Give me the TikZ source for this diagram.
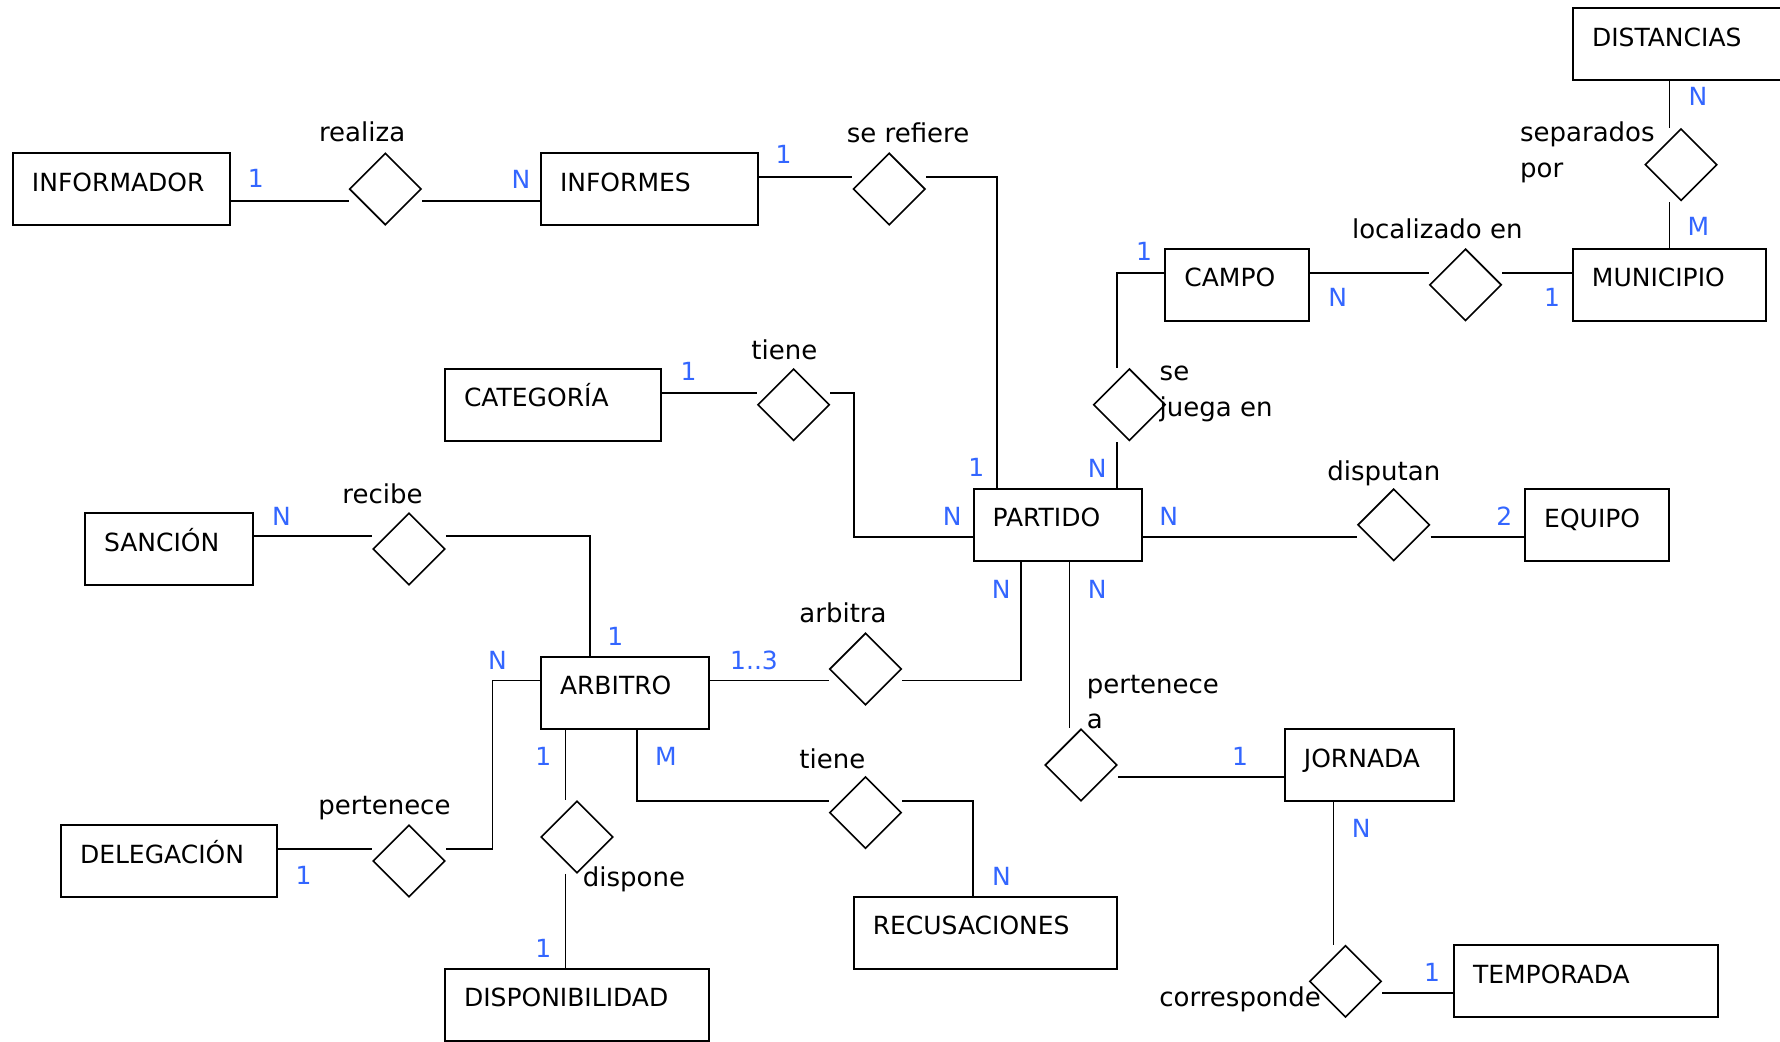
\documentclass[tikz,border=0pt]{standalone}
\usepackage{fontspec}
\setmainfont{DejaVu Sans}
\usetikzlibrary{shapes.geometric}
\definecolor{cardblue}{RGB}{51,102,255}
\begin{document}
\begin{tikzpicture}[x=0.5pt,y=-0.5pt,
  txtfont/.style={font=\fontsize{12.5pt}{17.5pt}\selectfont},
  lowfont/.style={font=\fontsize{13pt}{17.5pt}\selectfont},
  ent/.style={draw, line width=1pt, rectangle, txtfont, minimum height=36pt,
    inner xsep=9.5pt, inner ysep=2pt, text height=9pt, text depth=7pt, align=left},
  rel/.style={draw, diamond, line width=0.8pt, minimum width=36pt, minimum height=36pt, inner sep=0pt},
  conn/.style={draw, line width=0.9pt},
  card/.style={anchor=base, text=cardblue, txtfont, inner sep=0pt},
  rtxt/.style={anchor=base west, lowfont, inner sep=0pt}]
\useasboundingbox (0,0) rectangle (1780,1041);
\clip (0,0) rectangle (1780,1041);
\fill[white] (0,0) rectangle (1780,1041);

% entities
\node[ent, minimum width=108.5pt, text width=89.5pt] (informador) at (121.5,189) {INFORMADOR};
\node[ent, minimum width=108.5pt, text width=89.5pt] (informes) at (649.5,189) {INFORMES};
\node[ent, minimum width=108pt, text width=89pt] (categoria) at (553,404.7) {CATEGORÍA};
\node[ent, minimum width=84pt, text width=65pt] (sancion) at (169,549) {SANCIÓN};
\node[ent, minimum width=84pt, text width=65pt] (arbitro) at (625,692.7) {ARBITRO};
\node[ent, minimum width=108pt, text width=89pt] (delegacion) at (169,861) {DELEGACIÓN};
\node[ent, minimum width=132pt, text width=113pt] (disponibilidad) at (577,1004.5) {DISPONIBILIDAD};
\node[ent, minimum width=131.5pt, text width=112.5pt] (recusaciones) at (985.3,932.9) {RECUSACIONES};
\node[ent, minimum width=84pt, text width=65pt] (partido) at (1057.5,524.8) {PARTIDO};
\node[ent, minimum width=72pt, text width=53pt] (equipo) at (1597.2,525) {EQUIPO};
\node[ent, minimum width=84.5pt, text width=65.5pt] (jornada) at (1369.4,765) {JORNADA};
\node[ent, minimum width=132pt, text width=113pt] (temporada) at (1586,981) {TEMPORADA};
\node[ent, minimum width=72pt, text width=53pt] (campo) at (1237.4,284.7) {CAMPO};
\node[ent, minimum width=96.5pt, text width=77.5pt] (municipio) at (1669.4,284.7) {MUNICIPIO};
\node[ent, minimum width=108.5pt, text width=89.5pt] (distancias) at (1681.5,44.2) {DISTANCIAS};

% relationships
\node[rel] (realiza) at (385.3,189) {};
\node[rel] (serefiere) at (889.2,189) {};
\node[rel] (tiene) at (793.6,404.7) {};
\node[rel] (recibe) at (409,549) {};
\node[rel] (pertenece) at (409,861) {};
\node[rel] (arbitra) at (865.5,669) {};
\node[rel] (dispone) at (577,837) {};
\node[rel] (tienedos) at (865.5,812.6) {};
\node[rel] (pertenecea) at (1081,765) {};
\node[rel] (corresponde) at (1345.5,981.3) {};
\node[rel] (disputan) at (1393.7,524.8) {};
\node[rel] (sejuega) at (1129.4,404.7) {};
\node[rel] (localizado) at (1465.5,284.8) {};
\node[rel] (separados) at (1681,164.7) {};

% connectors
\draw[conn] (informador.east |- 0,200.7) -- (realiza.west |- 0,200.7);
\draw[conn] (realiza.east |- 0,200.7) -- (informes.west |- 0,200.7);
\draw[conn] (informes.east |- 0,176.7) -- (serefiere.west |- 0,176.7);
\draw[conn] (serefiere.east |- 0,176.7) -| (partido.north -| 997,0);
\draw[conn] (categoria.east |- 0,392.7) -- (tiene.west |- 0,392.7);
\draw[conn] (tiene.east |- 0,392.7) -| (853.6,536.7) -- (partido.west |- 0,536.7);
\draw[conn] (partido.north -| 1117,0) -- (sejuega.south -| 1117,0);
\draw[conn] (sejuega.north -| 1117,0) |- (campo.west |- 0,272.7);
\draw[conn] (campo.east |- 0,272.7) -- (localizado.west |- 0,272.7);
\draw[conn] (localizado.east |- 0,272.7) -- (municipio.west |- 0,272.7);
\draw[conn] (municipio.north) -- (separados.south -| municipio.north);
\draw[conn] (separados.north -| municipio.north) -- (distancias.south -| municipio.north);
\draw[conn] (partido.east |- 0,536.7) -- (disputan.west |- 0,536.7);
\draw[conn] (disputan.east |- 0,536.7) -- (equipo.west |- 0,536.7);
\draw[conn] (partido.south -| 1021,0) |- (arbitra.east |- 0,680.5);
\draw[conn] (partido.south -| 1069.4,0) -- (pertenecea.north -| 1069.4,0);
\draw[conn] (pertenecea.east |- 0,777) -- (jornada.west |- 0,777);
\draw[conn] (jornada.south -| 1333.4,0) -- (corresponde.north -| 1333.4,0);
\draw[conn] (corresponde.east |- 0,993) -- (temporada.west |- 0,993);
\draw[conn] (sancion.east |- 0,536.2) -- (recibe.west |- 0,536.2);
\draw[conn] (recibe.east |- 0,536.2) -| (arbitro.north -| 589.6,0);
\draw[conn] (arbitro.west |- 0,680.5) -| (492.5,849.2) -- (pertenece.east |- 0,849.2);
\draw[conn] (delegacion.east |- 0,849.2) -- (pertenece.west |- 0,849.2);
\draw[conn] (arbitro.east |- 0,680.5) -- (arbitra.west |- 0,680.5);
\draw[conn] (arbitro.south -| 565.4,0) -- (dispone.north -| 565.4,0);
\draw[conn] (dispone.south -| 565.4,0) -- (disponibilidad.north -| 565.4,0);
\draw[conn] (arbitro.south -| 637.2,0) |- (tienedos.west |- 0,801.2);
\draw[conn] (tienedos.east |- 0,801.2) -| (recusaciones.north -| 973,0);

% relationship texts
\node[rtxt] (t-realiza) at (318.7,141.7) {realiza};
\node[rtxt] (t-serefiere) at (846.5,142) {se refiere};
\node[rtxt] (t-tiene) at (751,359.3) {tiene};
\node[rtxt] (t-recibe) at (342,503.3) {recibe};
\node[rtxt] (t-arbitra) at (799,622.5) {arbitra};
\node[rtxt] (t-tienedos) at (799,768.5) {tiene};
\node[rtxt] (t-pertenece) at (318,814) {pertenece};
\node[rtxt] (t-dispone) at (582.4,886.5) {dispone};
\node[rtxt] (t-pertenecea1) at (1086.4,693) {pertenece};
\node[rtxt] (t-pertenecea2) at (1086.4,728) {a};
\node[rtxt] (t-se) at (1159.3,380) {se};
\node[rtxt] (t-juega) at (1159.3,416) {juega en};
\node[rtxt] (t-localizado) at (1351.6,238.3) {localizado en};
\node[rtxt] (t-separados) at (1519.7,141.7) {separados};
\node[rtxt] (t-por) at (1519.7,177) {por};
\node[rtxt] (t-disputan) at (1327,480) {disputan};
\node[rtxt] (t-corresponde) at (1159,1006.7) {corresponde};

% cardinalities
\node[card] (c1) at (255.7,187.3) {1};
\node[card] (c2) at (521,188) {N};
\node[card] (c3) at (783.5,163) {1};
\node[card] (c4) at (688.5,380.7) {1};
\node[card] (c5) at (281.4,525) {N};
\node[card] (c6) at (615.3,645) {1};
\node[card] (c7) at (497.4,669) {N};
\node[card] (c8) at (754,669) {1..3};
\node[card] (c9) at (543.4,765) {1};
\node[card] (c10) at (666,765) {M};
\node[card] (c11) at (303.5,884.7) {1};
\node[card] (c12) at (543.4,957) {1};
\node[card] (c13) at (1001.4,885.8) {N};
\node[card] (c14) at (976.4,476.7) {1};
\node[card] (c15) at (1097.3,477) {N};
\node[card] (c16) at (952.2,525) {N};
\node[card] (c17) at (1168.8,525) {N};
\node[card] (c18) at (1001.2,598.3) {N};
\node[card] (c19) at (1097.3,598.3) {N};
\node[card] (c20) at (1504.3,525) {2};
\node[card] (c21) at (1240,765) {1};
\node[card] (c22) at (1361.3,837.5) {N};
\node[card] (c23) at (1432,981) {1};
\node[card] (c24) at (1144,260) {1};
\node[card] (c25) at (1337.8,306.7) {N};
\node[card] (c26) at (1552,306.7) {1};
\node[card] (c27) at (1698.3,235.7) {M};
\node[card] (c28) at (1698,105) {N};
\end{tikzpicture}
\end{document}
